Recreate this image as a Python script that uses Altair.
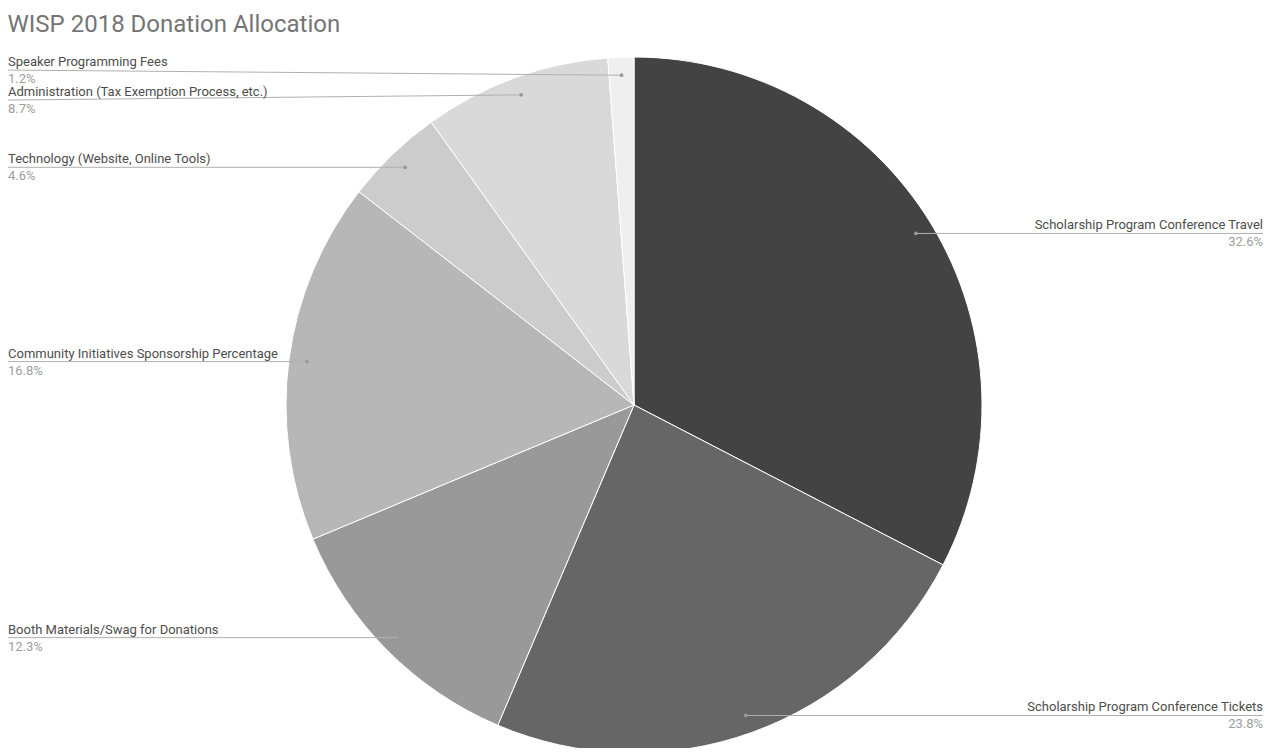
"""
WISP 2018 Donation Allocation - grayscale pie chart with leader-line labels
"""

import numpy as np
import pandas as pd
import altair as alt

# Slice data (clockwise from 12 o'clock)
categories = [
    'Scholarship Program Conference Travel',
    'Scholarship Program Conference Tickets',
    'Booth Materials/Swag for Donations',
    'Community Initiatives Sponsorship Percentage',
    'Technology (Website, Online Tools)',
    'Administration (Tax Exemption Process, etc.)',
    'Speaker Programming Fees',
]
shares = [32.6, 23.8, 12.3, 16.8, 4.6, 8.7, 1.2]
colors = ['#434343', '#666666', '#999999', '#b7b7b7', '#cccccc', '#d9d9d9', '#efefef']

# Layout (pixels inside the plot area)
W, H = 1255, 710
CX, CY, R = 626, 367, 348
DOT_R = 330
GAP = 30

df = pd.DataFrame({'category': categories, 'share': shares, 'order': range(len(shares))})

# leader-line anchor in the middle of each slice
end = df['share'].cumsum()
mid = (end - df['share'] / 2) / 100 * 2 * np.pi
df['dot_x'] = CX + DOT_R * np.sin(mid)
df['dot_y'] = CY - DOT_R * np.cos(mid)
df['right'] = df['dot_x'] > CX
df['edge_x'] = np.where(df['right'], W, 0)

# spread crowded labels apart on each side (both neighbours move)
df['line_y'] = df['dot_y']
for side in [True, False]:
    idx = list(df[df['right'] == side].sort_values('dot_y').index)
    for a, b in zip(idx, idx[1:]):
        short = GAP - (df.at[b, 'line_y'] - df.at[a, 'line_y'])
        if short > 0:
            df.at[a, 'line_y'] -= short / 2
            df.at[b, 'line_y'] += short / 2
df['name_y'] = df['line_y'] - 4
df['pct_y'] = df['line_y'] + 13
df['pct'] = df['share'].map(lambda v: f'{v:.1f}%')

color_scale = alt.Scale(domain=categories, range=colors)

pie = alt.Chart(df).mark_arc(
    outerRadius=R, stroke='white', strokeWidth=1
).encode(
    theta=alt.Theta('share:Q', stack=True),
    color=alt.Color('category:N', scale=color_scale, legend=None),
    order=alt.Order('order:Q'),
    x=alt.value(CX),
    y=alt.value(CY),
)

px = alt.X('dot_x:Q', scale=None, axis=None)
py = alt.Y('dot_y:Q', scale=None, axis=None)

leaders = alt.Chart(df).mark_rule(color='#b0b0b0', strokeWidth=1).encode(
    x=px, x2='edge_x:Q', y=py, y2='line_y:Q'
)

dots = alt.Chart(df).mark_circle(size=14, color='#999999', opacity=1).encode(x=px, y=py)


def side_labels(is_right):
    base = alt.Chart(df).transform_filter(alt.datum.right == is_right)
    align = 'right' if is_right else 'left'
    tx = alt.X('edge_x:Q', scale=None, axis=None)
    names = base.mark_text(
        align=align, baseline='alphabetic', font='Roboto', fontSize=13, color='#4d4d4d'
    ).encode(x=tx, y=alt.Y('name_y:Q', scale=None, axis=None), text='category:N')
    pcts = base.mark_text(
        align=align, baseline='alphabetic', font='Roboto', fontSize=13, color='#9e9e9e'
    ).encode(x=tx, y=alt.Y('pct_y:Q', scale=None, axis=None), text='pct:N')
    return names + pcts


chart = alt.layer(
    pie, leaders, dots, side_labels(True), side_labels(False)
).properties(
    width=W,
    height=H,
    autosize=alt.AutoSizeParams(type='none'),
    padding={'left': 0, 'top': 30, 'right': 0, 'bottom': 0},
    title=alt.TitleParams(
        'WISP 2018 Donation Allocation',
        anchor='start',
        font='Roboto',
        fontSize=24,
        fontWeight='normal',
        color='#757575',
        offset=1,
    ),
).configure_view(stroke=None)

chart.save('out.html', embed_options={'renderer': 'svg', 'actions': False})
